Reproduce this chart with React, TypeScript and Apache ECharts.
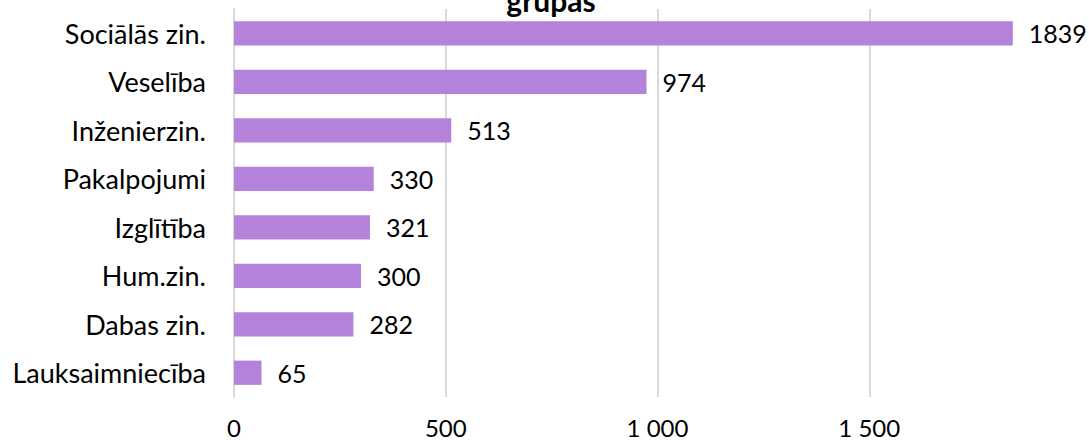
import React, { useEffect, useRef } from "react";
import * as echarts from "echarts";

const categories = [
  "Lauksaimniecība",
  "Dabas zin.",
  "Hum.zin.",
  "Izglītība",
  "Pakalpojumi",
  "Inženierzin.",
  "Veselība",
  "Sociālās zin.",
];
const values = [65, 282, 300, 321, 330, 513, 974, 1839];
const titleText = "grupas";
const FONT = "Lato, 'Open Sans', sans-serif";

export default function App() {
  const ref = useRef<HTMLDivElement>(null);
  useEffect(() => {
    if (!ref.current) return;
    const chart = echarts.init(ref.current, undefined, { renderer: "svg" });
    chart.setOption({
      animation: false,
      backgroundColor: "#ffffff",
      graphic: [
        {
          type: "text",
          x: 551,
          y: 15,
          style: {
            text: titleText,
            font: `bold 30px ${FONT}`,
            fill: "#000",
            align: "center",
            verticalAlign: "bottom",
          },
        },
      ],
      grid: { left: 234, right: 8, top: 9, height: 388 },
      xAxis: {
        type: "value",
        min: 0,
        max: 2000,
        interval: 500,
        axisLine: { show: false },
        axisTick: { show: false },
        axisLabel: {
          fontSize: 24,
          fontFamily: FONT,
          color: "#000",
          margin: 18,
          showMaxLabel: false,
          formatter: (v: number) =>
            v === 2000 ? "" : String(v).replace(/\B(?=(\d{3})+(?!\d))/g, " "),
        },
        splitLine: {
          show: true,
          lineStyle: {
            color: ["#d9d9d9", "#d9d9d9", "#d9d9d9", "#d9d9d9", "rgba(0,0,0,0)"],
            width: 2,
          },
        },
      },
      yAxis: {
        type: "category",
        data: categories,
        axisLine: { show: true, lineStyle: { color: "#d9d9d9", width: 2 } },
        axisTick: { show: false },
        axisLabel: {
          fontSize: 27,
          fontFamily: FONT,
          color: "#000",
          margin: 28,
        },
      },
      series: [
        {
          type: "bar",
          data: values,
          barWidth: "50%",
          itemStyle: { color: "#b482da" },
          label: {
            show: true,
            position: "right",
            distance: 16,
            fontSize: 25,
            fontFamily: FONT,
            color: "#000",
          },
        },
      ],
    });
    return () => chart.dispose();
  }, []);
  return <div ref={ref} style={{ position: "absolute", left: 0, top: 0, width: 1089, height: 443 }} />;
}
